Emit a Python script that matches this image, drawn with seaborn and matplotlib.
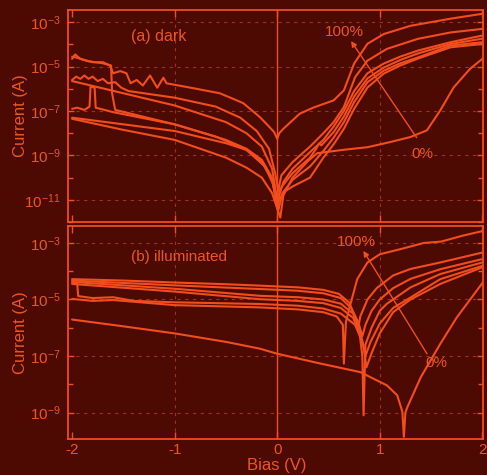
import numpy as np
import pandas as pd
import matplotlib
matplotlib.use("Agg")
import matplotlib.pyplot as plt
from matplotlib.ticker import FixedLocator, FuncFormatter, NullFormatter
import seaborn as sns

# ---------------------------------------------------------------
# I-V sweeps, current given as log10(|I| / A)
# ---------------------------------------------------------------
# (a) dark
dark_bias_1 = [-2.00, -1.97, -1.92, -1.80, -1.70, -1.63, -1.60, -1.53, -1.47, -1.43, -1.37,
               -1.31, -1.24, -1.17, -1.11, -1.08, -0.82, -0.56, -0.43, -0.33, -0.17, -0.08,
               -0.03, 0.00, 0.02, 0.06, 0.13, 0.22, 0.35, 0.55, 0.65, 0.75, 0.88, 1.04,
               1.30, 1.69, 2.00]
dark_log_1 = [-4.65, -4.45, -4.65, -4.80, -4.80, -4.95, -5.30, -5.20, -5.30, -5.75, -5.60,
              -5.85, -5.40, -5.95, -5.50, -5.75, -5.97, -6.20, -6.45, -6.65, -7.27, -7.70,
              -7.95, -8.25, -8.00, -7.80, -7.50, -7.12, -6.85, -6.52, -6.07, -4.86, -3.97,
              -3.53, -3.16, -2.84, -2.62]

dark_bias_2 = [-2.00, -1.95, -1.85, -1.70, -1.62, -1.61, -1.58, -1.40, -1.00, -0.60, -0.30,
               -0.12, -0.04, 0.00, 0.02, 0.06, 0.15, 0.32, 0.45, 0.55, 0.65, 0.75, 0.88,
               1.04, 1.20, 1.37, 1.69, 2.00]
dark_log_2 = [-4.55, -4.60, -4.75, -4.85, -4.95, -6.20, -6.95, -7.15, -7.60, -8.15, -8.75,
              -9.50, -10.30, -11.40, -10.80, -10.20, -9.60, -8.85, -8.30, -7.70, -7.00, -6.10,
              -5.30, -4.86, -4.55, -4.28, -3.90, -3.60]

dark_bias_3 = [-2.00, -1.96, -1.92, -1.88, -1.84, -1.80, -1.75, -1.70, -1.65, -1.58, -1.52,
               -1.45, -1.00, -0.60, -0.36, -0.20, -0.08, -0.02, 0.01, 0.04, 0.15, 0.32,
               0.45, 0.55, 0.65, 0.76, 0.88, 1.07, 1.37, 1.69, 2.00]
dark_log_3 = [-5.60, -5.45, -5.55, -5.40, -5.55, -5.45, -5.65, -5.55, -5.75, -5.70, -5.95,
              -6.10, -6.40, -6.80, -7.30, -7.90, -8.70, -9.80, -10.60, -9.90, -9.30, -8.60,
              -8.00, -7.50, -6.82, -5.47, -4.73, -4.20, -3.75, -3.46, -3.30]

dark_bias_4 = [-2.00, -1.50, -1.00, -0.50, -0.30, -0.15, -0.05, 0.00, 0.03, 0.08, 0.15,
               0.32, 0.38, 0.41, 0.43, 0.55, 0.65, 0.75, 0.88, 1.04, 1.20, 1.37, 1.69, 2.00]
dark_log_4 = [-5.65, -6.20, -6.75, -7.50, -8.00, -8.60, -9.60, -11.00, -10.50, -10.20, -9.80,
              -9.10, -8.70, -8.45, -8.55, -7.95, -7.25, -6.35, -5.53, -5.04, -4.70, -4.41,
              -3.98, -3.74]

dark_bias_5 = [-2.00, -1.95, -1.88, -1.83, -1.82, -1.78, -1.77, -1.60, -1.00, -0.50, -0.30,
               -0.15, -0.05, 0.01, 0.05, 0.15, 0.32, 0.45, 0.55, 0.65, 0.75, 0.88, 1.04,
               1.20, 1.37, 1.69, 2.00]
dark_log_5 = [-6.90, -6.85, -6.95, -6.80, -5.90, -5.95, -6.85, -7.05, -7.60, -8.30, -8.70,
              -9.20, -10.00, -11.50, -10.70, -10.10, -9.50, -8.80, -8.20, -7.50, -6.60, -5.70,
              -5.18, -4.85, -4.59, -4.05, -3.90]

dark_bias_6 = [-2.00, -1.50, -1.00, -0.50, -0.30, -0.15, -0.05, 0.00, 0.03, 0.08, 0.15,
               0.32, 0.45, 0.55, 0.65, 0.75, 0.88, 1.04, 1.20, 1.37, 1.69, 2.00]
dark_log_6 = [-7.30, -7.60, -7.90, -8.45, -8.75, -9.30, -10.10, -11.20, -10.90, -10.60, -10.40,
              -10.00, -9.10, -8.50, -7.80, -6.90, -5.94, -5.31, -4.95, -4.64, -4.13, -3.98]

dark_bias_7 = [-2.00, -1.50, -1.00, -0.50, -0.30, -0.15, -0.05, 0.03, 0.06, 0.15, 0.30,
               0.39, 0.64, 0.88, 1.10, 1.30, 1.46, 1.59, 1.72, 1.88, 2.00]
dark_log_7 = [-7.35, -7.85, -8.30, -9.10, -9.55, -10.00, -10.70, -11.80, -10.80, -10.00, -9.25,
              -8.90, -8.75, -8.63, -8.40, -8.17, -7.87, -6.97, -5.94, -5.10, -4.65]

# (b) illuminated
illum_bias_1 = [-2.00, -1.50, -1.00, -0.50, -0.17, 0.20, 0.45, 0.60, 0.70, 0.76, 0.79,
                0.81, 0.88, 0.97, 1.13, 1.30, 1.59, 2.00]
illum_log_1 = [-4.28, -4.33, -4.40, -4.46, -4.51, -4.57, -4.66, -4.80, -5.10, -5.60, -6.00,
               -5.60, -5.00, -4.60, -4.15, -3.92, -3.69, -3.34]

illum_bias_2 = [-2.00, -1.00, -0.17, 0.20, 0.45, 0.62, 0.72, 0.79, 0.83, 0.86, 0.92,
                1.00, 1.13, 1.30, 1.59, 2.00]
illum_log_2 = [-4.33, -4.50, -4.63, -4.69, -4.78, -4.95, -5.30, -5.80, -6.30, -5.90, -5.40,
               -5.00, -4.60, -4.27, -3.93, -3.57]

illum_bias_3 = [-2.00, -1.00, -0.17, 0.20, 0.45, 0.62, 0.74, 0.80, 0.83, 0.842, 0.86,
                0.92, 1.00, 1.07, 1.30, 1.59, 2.00]
illum_log_3 = [-4.38, -4.62, -4.87, -4.92, -5.00, -5.15, -5.50, -6.10, -7.00, -9.10, -6.60,
               -6.00, -5.40, -5.15, -4.57, -4.10, -3.69]

illum_bias_4 = [-2.00, -1.00, -0.17, 0.20, 0.45, 0.62, 0.74, 0.82, 0.86, 0.91, 1.00,
                1.13, 1.30, 1.59, 2.00]
illum_log_4 = [-4.45, -4.72, -4.99, -5.05, -5.13, -5.30, -5.65, -6.30, -7.00, -6.50, -5.85,
               -5.30, -4.93, -4.28, -3.81]

illum_bias_5 = [-2.00, -1.95, -1.94, -1.80, -1.60, -1.40, -1.00, -0.17, 0.20, 0.45, 0.62,
                0.76, 0.84, 0.87, 0.92, 1.00, 1.13, 1.30, 1.59, 2.00]
illum_log_5 = [-4.42, -4.45, -4.88, -4.95, -4.92, -5.05, -5.10, -5.16, -5.22, -5.32, -5.50,
               -5.90, -6.60, -7.40, -6.90, -6.20, -5.45, -5.00, -4.45, -3.86]

illum_bias_6 = [-2.00, -1.80, -1.60, -1.00, -0.17, 0.20, 0.45, 0.58, 0.64, 0.65, 0.67,
                0.71, 0.78, 0.88, 1.00, 1.20, 1.43, 1.60, 1.80, 2.00]
illum_log_6 = [-4.98, -5.05, -5.02, -5.20, -5.28, -5.35, -5.45, -5.60, -5.90, -7.27, -5.80,
               -5.22, -4.28, -3.69, -3.40, -3.22, -3.00, -2.95, -2.75, -2.58]

illum_bias_7 = [-2.00, -1.50, -1.00, -0.50, -0.17, 0.00, 0.40, 0.81, 1.07, 1.17, 1.22,
                1.235, 1.25, 1.27, 1.40, 1.59, 1.75, 2.00]
illum_log_7 = [-5.71, -5.95, -6.20, -6.50, -6.74, -6.92, -7.25, -7.57, -8.04, -8.39, -8.97,
               -9.86, -9.00, -8.80, -7.75, -6.57, -5.64, -4.42]

panel_titles = ["(a) dark", "(b) illuminated"]
y_major_exps = [[-3, -5, -7, -9, -11], [-3, -5, -7, -9]]
x_ticks = [-2, -1, 0, 1, 2]
sweep_labels = ["100%", "0%"]


def to_frame(biases, logs):
    rows = []
    for k, (b, lg) in enumerate(zip(biases, logs)):
        rows.append(pd.DataFrame({"bias": b, "current": 10.0 ** np.asarray(lg), "sweep": k}))
    return pd.concat(rows, ignore_index=True)


dark_df = to_frame([dark_bias_1, dark_bias_2, dark_bias_3, dark_bias_4, dark_bias_5, dark_bias_6, dark_bias_7],
                   [dark_log_1, dark_log_2, dark_log_3, dark_log_4, dark_log_5, dark_log_6, dark_log_7])
illum_df = to_frame([illum_bias_1, illum_bias_2, illum_bias_3, illum_bias_4, illum_bias_5, illum_bias_6, illum_bias_7],
                    [illum_log_1, illum_log_2, illum_log_3, illum_log_4, illum_log_5, illum_log_6, illum_log_7])

# ---------------------------------------------------------------
# Styling
# ---------------------------------------------------------------
BG = "#4d0a03"
LINE = "#f24d1d"
TEXT = "#e9571f"
GRID = "#9a3318"

sns.set_style("ticks")
plt.rcParams["font.family"] = ["Liberation Sans", "DejaVu Sans"]
plt.rcParams["mathtext.fontset"] = "custom"
plt.rcParams["mathtext.rm"] = "Liberation Sans"
plt.rcParams["mathtext.it"] = "Liberation Sans:italic"
plt.rcParams["mathtext.bf"] = "Liberation Sans:bold"

fig = plt.figure(figsize=(4.87, 4.75), dpi=100, facecolor=BG)
ax_top = fig.add_axes([0.1396, 0.5326, 0.8525, 0.4463], facecolor=BG)
ax_bot = fig.add_axes([0.1396, 0.0768, 0.8525, 0.4474], facecolor=BG)

sns.lineplot(data=dark_df, x="bias", y="current", units="sweep", estimator=None, sort=False,
             color=LINE, lw=1.5, ax=ax_top, legend=False)
sns.lineplot(data=illum_df, x="bias", y="current", units="sweep", estimator=None, sort=False,
             color=LINE, lw=1.5, ax=ax_bot, legend=False)

ylims = [(1e-12, 10 ** -2.45), (10 ** -9.92, 10 ** -2.4)]

decade_fmt = FuncFormatter(lambda v, pos: r"$\mathregular{10^{%d}}$" % int(round(np.log10(v))))

for i, ax in enumerate([ax_top, ax_bot]):
    ax.set_yscale("log")
    ax.set_xlim(-2.04, 2.008)
    ax.set_ylim(*ylims[i])
    majors = [10.0 ** e for e in y_major_exps[i]]
    lo, hi = np.log10(ylims[i][0]), np.log10(ylims[i][1])
    minors = [10.0 ** e for e in range(int(np.ceil(lo)), int(np.floor(hi)) + 1) if e not in y_major_exps[i]]
    ax.yaxis.set_major_locator(FixedLocator(majors))
    ax.yaxis.set_minor_locator(FixedLocator(minors))
    ax.yaxis.set_major_formatter(decade_fmt)
    ax.yaxis.set_minor_formatter(NullFormatter())
    ax.xaxis.set_major_locator(FixedLocator(x_ticks))
    ax.xaxis.set_minor_locator(FixedLocator([]))

    ax.tick_params(axis="both", which="both", direction="in", colors=LINE, labelcolor=TEXT,
                   top=True, right=True, width=1.0)
    ax.tick_params(axis="y", which="major", length=4.5, pad=5, labelsize=11)
    ax.tick_params(axis="y", which="minor", length=3.5)
    ax.tick_params(axis="x", which="major", length=5, pad=3, labelsize=11)

    for sp in ax.spines.values():
        sp.set_color(LINE)
        sp.set_linewidth(1.3)

    # dashed guide lines at labelled decades and at +/-1 V
    for m in majors:
        ax.axhline(m, color=GRID, lw=0.8, ls=(0, (3, 4)), zorder=0)
    for xv in (-1, 1):
        ax.axvline(xv, color=GRID, lw=0.8, ls=(0, (3, 4)), zorder=0)
    ax.axvline(0, color=LINE, lw=1.0, zorder=1)

    ax.set_ylabel("Current (A)", color=TEXT, fontsize=12)
    ax.yaxis.set_label_coords(-0.097, 0.5)
    ax.set_xlabel("")

ax_top.tick_params(axis="x", labelbottom=False)
ax_bot.set_xticklabels(["-2", "-1", "0", "1", "2"])
ax_bot.set_xlabel("Bias (V)", color=TEXT, fontsize=12)
ax_bot.xaxis.set_label_coords(0.504, -0.092)

# panel captions
ax_top.text(-1.43, 10 ** -3.65, panel_titles[0], color=TEXT, fontsize=11.5, ha="left", va="center")
ax_bot.text(-1.43, 10 ** -3.49, panel_titles[1], color=TEXT, fontsize=11, ha="left", va="center")

# sweep-order arrows
arrow_kw = dict(arrowstyle="-|>", color=LINE, lw=1.0, mutation_scale=8, shrinkA=0, shrinkB=0)
ax_top.annotate("", xy=(0.72, 10 ** -3.85), xytext=(1.36, 10 ** -8.2), arrowprops=arrow_kw)
ax_top.text(0.654, 10 ** -3.43, sweep_labels[0], color=TEXT, fontsize=11, ha="center", va="center")
ax_top.text(1.42, 10 ** -8.94, sweep_labels[1], color=TEXT, fontsize=11, ha="center", va="center")

ax_bot.annotate("", xy=(0.84, 10 ** -3.28), xytext=(1.46, 10 ** -6.92), arrowprops=arrow_kw)
ax_bot.text(0.77, 10 ** -2.96, sweep_labels[0], color=TEXT, fontsize=11, ha="center", va="center")
ax_bot.text(1.55, 10 ** -7.24, sweep_labels[1], color=TEXT, fontsize=11, ha="center", va="center")

fig.savefig("out.png", dpi=100, facecolor=BG)
